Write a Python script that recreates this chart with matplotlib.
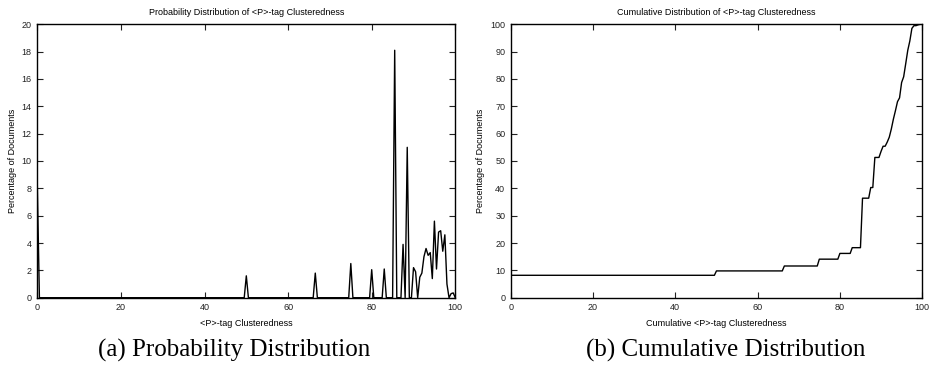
#!/usr/bin/env python3
"""
Distribution of <P>-tag clusteredness: probability (a) and cumulative (b)
"""

import numpy as np
import matplotlib
matplotlib.use('Agg')
import matplotlib.pyplot as plt

# bins (step 0.5) with non-zero share of documents
bin_x = [0, 50, 66.5, 75, 80, 83, 85.5, 87.5, 88.5, 90, 90.5,
         91.5, 92, 92.5, 93, 93.5, 94, 94.5, 95, 95.5, 96, 96.5,
         97, 97.5, 98, 99, 99.5]
bin_pct = [8.2, 1.6, 1.8, 2.5, 2.05, 2.1, 18.1, 3.9, 11.0, 2.2, 1.9,
           1.5, 1.8, 3.0, 3.6, 3.1, 3.3, 1.4, 5.6, 2.1, 4.8, 4.9,
           3.4, 4.6, 1.0, 0.3, 0.35]

# cumulative curve
cum_x = [0, 49.5, 50, 66, 66.5, 74.5, 75, 79.5, 80, 82.5, 83, 85, 85.5,
         87, 87.5, 88, 88.5, 89.5, 90, 90.5, 91, 91.5, 92, 92.5, 93,
         93.5, 94, 94.5, 95, 95.5, 96, 96.5, 97, 97.5, 98, 98.5, 99,
         99.5, 100]
cum_pct = [8.2, 8.2, 9.8, 9.8, 11.6, 11.6, 14.1, 14.1, 16.2, 16.2, 18.3,
           18.3, 36.4, 36.4, 40.3, 40.3, 51.3, 51.3, 53.5, 55.4, 55.4,
           56.9, 58.7, 61.7, 65.3, 68.4, 71.7, 73.1, 78.7, 80.8, 85.6,
           90.5, 93.9, 98.5, 99.5, 99.5, 99.8, 100, 100]

plt.rcParams['font.family'] = ['Liberation Sans', 'DejaVu Sans']

# full 0.5 grid, empty bins are zero
grid = np.arange(0, 100.5, 0.5)
prob = np.zeros_like(grid)
for x, p in zip(bin_x, bin_pct):
    prob[int(round(x * 2))] = p

fig = plt.figure(figsize=(9.33, 3.68), dpi=100)
ax1 = fig.add_axes([0.040, 0.191, 0.448, 0.743])
ax2 = fig.add_axes([0.5474, 0.191, 0.441, 0.743])


def style(ax, ymax, ystep):
    ax.set_xlim(0, 100)
    ax.set_ylim(0, ymax)
    ax.set_xticks(range(0, 101, 20))
    ax.set_yticks(range(0, ymax + 1, ystep))
    ax.tick_params(direction='in', length=4, width=0.8, labelsize=6.5,
                   top=True, right=True, pad=4, colors='#222222')
    for s in ax.spines.values():
        s.set_linewidth(1.0)


ax1.plot(grid, prob, color='black', linewidth=1.0)
style(ax1, 20, 2)
ax1.set_title('Probability Distribution of <P>-tag Clusteredness', fontsize=6.5, pad=7)
ax1.set_xlabel('<P>-tag Clusteredness', fontsize=6.5, labelpad=5)
ax1.set_ylabel('Percentage of Documents', fontsize=6.5, labelpad=3)

ax2.plot(cum_x, cum_pct, color='black', linewidth=1.0)
style(ax2, 100, 10)
ax2.set_title('Cumulative Distribution of <P>-tag Clusteredness', fontsize=6.5, pad=7)
ax2.set_xlabel('Cumulative <P>-tag Clusteredness', fontsize=6.5, labelpad=5)
ax2.set_ylabel('Percentage of Documents', fontsize=6.5, labelpad=4)

fig.text(0.251, 0.030, '(a) Probability Distribution', ha='center', va='baseline',
         fontsize=18, family='Liberation Serif')
fig.text(0.778, 0.030, '(b) Cumulative Distribution', ha='center', va='baseline',
         fontsize=18, family='Liberation Serif')

plt.savefig('out.png', dpi=100)
plt.close()
